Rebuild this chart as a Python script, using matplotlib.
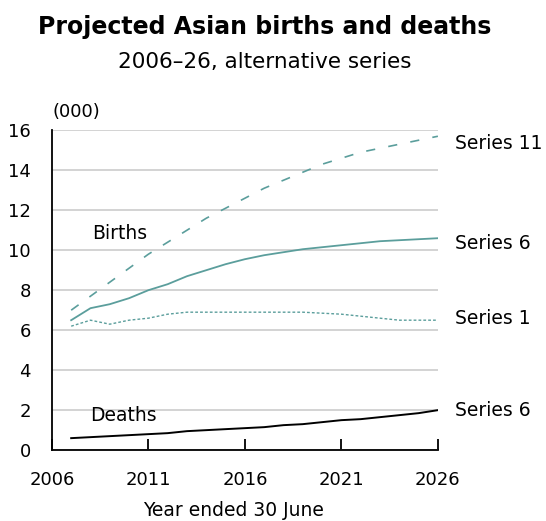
import numpy as np
import matplotlib.pyplot as plt

years = list(range(2007, 2027))
series11 = [7.0, 7.7, 8.4, 9.1, 9.8, 10.4, 11.0, 11.6, 12.1, 12.6,
            13.1, 13.5, 13.9, 14.3, 14.6, 14.9, 15.1, 15.3, 15.5, 15.7]
series6_births = [6.5, 7.1, 7.3, 7.6, 8.0, 8.3, 8.7, 9.0, 9.3, 9.55,
                  9.75, 9.9, 10.05, 10.15, 10.25, 10.35, 10.45, 10.5, 10.55, 10.6]
series1 = [6.2, 6.5, 6.3, 6.5, 6.6, 6.8, 6.9, 6.9, 6.9, 6.9,
           6.9, 6.9, 6.9, 6.85, 6.8, 6.7, 6.6, 6.5, 6.5, 6.5]
series6_deaths = [0.6, 0.65, 0.7, 0.75, 0.8, 0.85, 0.95, 1.0, 1.05, 1.1,
                  1.15, 1.25, 1.3, 1.4, 1.5, 1.55, 1.65, 1.75, 1.85, 2.0]
end_labels = ['Series 11', 'Series 6', 'Series 1', 'Series 6']

teal = '#5b9e9c'

fig = plt.figure(figsize=(5.46, 5.21), dpi=100)
ax = fig.add_axes([0.095, 0.136, 0.707, 0.614])

ax.plot(years, series11, color=teal, lw=1.2, dashes=(5.5, 8))
ax.plot(years, series6_births, color=teal, lw=1.3)
ax.plot(years, series1, color=teal, lw=1.0, dashes=(2, 1.5))
ax.plot(years, series6_deaths, color='black', lw=1.4)

ax.set_xlim(2006, 2026)
ax.set_ylim(0, 16)
ax.set_xticks(range(2006, 2027, 5))
ax.set_yticks(range(0, 17, 2))
ax.grid(axis='y', color='#cccccc', lw=1.2)
ax.set_axisbelow(True)
for s in ['top', 'right']:
    ax.spines[s].set_visible(False)
ax.spines['left'].set_linewidth(1.3)
ax.spines['bottom'].set_linewidth(1.3)
ax.tick_params(axis='x', direction='in', length=8, width=1.3, labelsize=13, pad=15)
ax.tick_params(axis='y', length=0, labelsize=13, pad=15)
ax.set_xlabel('Year ended 30 June', fontsize=13.5, va='center')
ax.xaxis.set_label_coords(0.47, -0.19)

ends = [series11[-1], series6_births[-1], series1[-1], series6_deaths[-1]]
offs = [-0.35, -0.25, 0.1, 0.0]
for lab, v, o in zip(end_labels, ends, offs):
    ax.text(2026.9, v + o, lab, fontsize=13.5, va='center', ha='left', clip_on=False)

ax.text(2008.1, 10.85, 'Births', fontsize=13.5, va='center')
ax.text(2008.0, 1.75, 'Deaths', fontsize=13.5, va='center')
ax.text(2006.05, 16.9, '(000)', fontsize=13, va='center')

fig.text(0.484, 0.948, 'Projected Asian births and deaths', fontsize=17,
         fontweight='bold', ha='center', va='center')
fig.text(0.484, 0.881, '2006\u201326, alternative series', fontsize=15.5,
         ha='center', va='center')

fig.savefig('out.png', dpi=100)
